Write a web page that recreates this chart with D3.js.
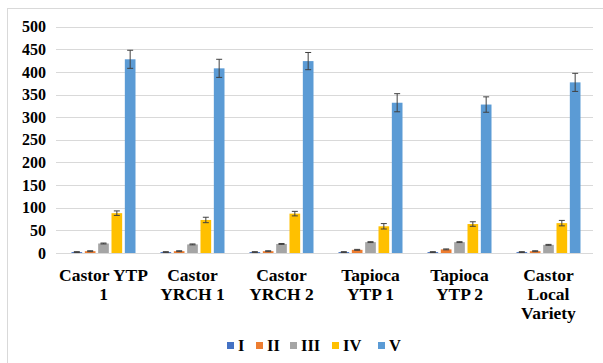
<!DOCTYPE html>
<html><head><meta charset="utf-8">
<script src="https://cdn.jsdelivr.net/npm/d3@7"></script>
<style>body{margin:0;background:#fff}svg{display:block}
.t{font-family:"Liberation Serif","Times New Roman",Tinos,"DejaVu Serif",serif;font-weight:bold;fill:#000}</style>
</head><body><svg id="c" width="603" height="363"></svg>
<script>
const categories = [["Castor YTP","1"],["Castor","YRCH 1"],["Castor","YRCH 2"],["Tapioca","YTP 1"],["Tapioca","YTP 2"],["Castor","Local","Variety"]];
const series = ["I","II","III","IV","V"];
const colors = ["#4472C4","#ED7D31","#A5A5A5","#FFC000","#5B9BD5"];
const valI   = [2,2,2,2,2,2];
const valII  = [4,4,4,7,8,4];
const valIII = [21,19,20,24,24,18];
const valIV  = [88,73,87,59,64,66];
const valV   = [428,408,424,332,328,377];
const errI   = [1,1,1,1,1,1];
const errII  = [1,1,1,1,1,1];
const errIII = [1,1,1,1,1,1];
const errIV  = [5,6,5,6,5,6];
const errV   = [20,20,19,20,17,20];
const yTicks = [0,50,100,150,200,250,300,350,400,450,500];

const vals = [valI,valII,valIII,valIV,valV];
const errs = [errI,errII,errIII,errIV,errV];
const svg = d3.select("#c");

svg.append("rect").attr("x",7.5).attr("y",8.5).attr("width",620).attr("height",400)
  .attr("fill","none").attr("stroke","#d9d9d9");

const y = d3.scaleLinear().domain([0,500]).range([253,26.7]);
const x0 = d3.scaleBand().domain(d3.range(categories.length)).range([59,593]).padding(0);
const x1 = d3.scaleBand().domain(series).range([-32,32]).paddingInner(0.2);

svg.append("g").selectAll("line").data(yTicks).join("line")
  .attr("x1",56).attr("x2",593).attr("y1",d=>Math.round(y(d))+0.5).attr("y2",d=>Math.round(y(d))+0.5)
  .attr("stroke","#d9d9d9").attr("stroke-width",1);

const yAxis = d3.axisLeft(y).tickValues(yTicks).tickSize(0).tickPadding(0);
const ya = svg.append("g").attr("transform","translate(46,0)").call(yAxis);
ya.select(".domain").remove();
ya.attr("font-family",null).attr("font-size",null);
ya.selectAll("text").attr("class","t").attr("font-size",16);

const g = svg.append("g");
series.forEach((s,si)=>{
  categories.forEach((c,ci)=>{
    const cx = x0(ci)+x0.bandwidth()/2;
    const bx = cx + x1(s);
    const v = vals[si][ci], e = errs[si][ci];
    g.append("rect").attr("x",bx).attr("y",y(v)).attr("width",x1.bandwidth()).attr("height",y(0)-y(v))
      .attr("fill",colors[si]);
    const mx = bx + x1.bandwidth()/2;
    g.append("line").attr("x1",mx).attr("x2",mx).attr("y1",y(v+e)).attr("y2",y(Math.max(0,v-e)))
      .attr("stroke","#404040").attr("stroke-width",1);
    [v+e, Math.max(0,v-e)].forEach(t=>{
      g.append("line").attr("x1",mx-3).attr("x2",mx+3).attr("y1",y(t)).attr("y2",y(t))
        .attr("stroke","#404040").attr("stroke-width",1);
    });
  });
});

const xl = svg.append("g");
categories.forEach((c,ci)=>{
  const cx = x0(ci)+x0.bandwidth()/2;
  const t = xl.append("text").attr("class","t").attr("x",cx).attr("y",281).attr("text-anchor","middle")
    .attr("font-size",17.5);
  c.forEach((line,li)=>{
    t.append("tspan").attr("x",cx).attr("dy",li===0?0:19).text(line);
  });
});

const legX = [227,256,290,332,378];
const lg = svg.append("g");
series.forEach((s,i)=>{
  lg.append("rect").attr("x",legX[i]).attr("y",342).attr("width",7).attr("height",7).attr("fill",colors[i]);
  lg.append("text").attr("class","t").attr("x",legX[i]+11).attr("y",351)
    .attr("font-size",16.5).text(s);
});
</script></body></html>
